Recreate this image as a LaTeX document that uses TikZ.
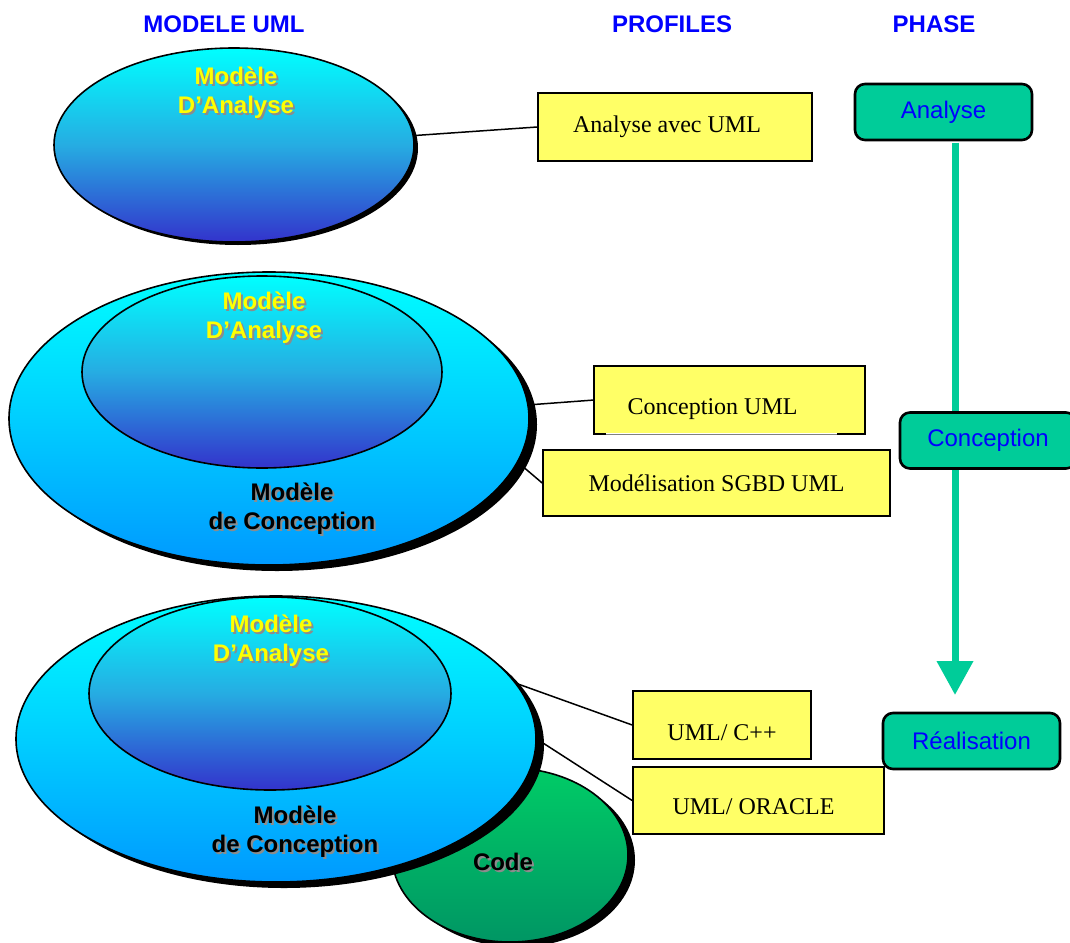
\documentclass[tikz,border=0pt]{standalone}
\usepackage{fontspec}
\setmainfont{Liberation Serif}
\setsansfont{Liberation Sans}
\usetikzlibrary{shapes.geometric,shadows,calc,arrows.meta}

\definecolor{hdrblue}{RGB}{0,0,255}
\definecolor{ucyan}{RGB}{0,255,255}
\definecolor{umid}{RGB}{38,172,226}
\definecolor{udeep}{RGB}{51,51,204}
\definecolor{oblue}{RGB}{0,153,255}
\definecolor{omid}{RGB}{0,206,255}
\definecolor{cgreen}{RGB}{0,204,102}
\definecolor{cdark}{RGB}{0,150,100}
\definecolor{pyellow}{RGB}{255,255,102}
\definecolor{phasegreen}{RGB}{0,204,153}
\definecolor{txtshadow}{RGB}{140,140,140}
\definecolor{lblyellow}{RGB}{255,255,0}

\tikzset{
  model/.style={ellipse, draw=black, line width=1.6pt, inner sep=0pt},
  inner model/.style={model, top color=ucyan, bottom color=udeep, middle color=umid},
  outer model/.style={model, top color=ucyan, bottom color=oblue, middle color=omid,
    drop shadow={shadow xshift=8pt, shadow yshift=-6pt, fill=black, opacity=1}},
  code model/.style={model, top color=cgreen, bottom color=cdark,
    drop shadow={shadow xshift=7pt, shadow yshift=-5pt, fill=black, opacity=1}},
  header/.style={font=\sffamily\bfseries\fontsize{24}{29}\selectfont, text=hdrblue, inner sep=0pt},
  lbl/.style={font=\sffamily\bfseries\fontsize{24}{29}\selectfont, align=center, inner sep=0pt},
  profile/.style={rectangle, draw=black, line width=1.6pt, fill=pyellow,
    font=\fontsize{24}{29}\selectfont, inner sep=0pt},
  phase/.style={rectangle, rounded corners=10pt, draw=black, line width=2.6pt, fill=phasegreen,
    text=hdrblue, font=\sffamily\fontsize{24}{29}\selectfont,
    minimum width=177pt, minimum height=56pt, inner sep=0pt},
  link/.style={draw=black, line width=1.5pt},
  flow/.style={draw=phasegreen, line width=7pt, -{Triangle[width=35pt,length=34pt]}}
}

% label with a soft grey cast shadow behind it
\newcommand\castlabel[4]{%
  \node[lbl, text=txtshadow] (#1-s) at ($#2+(2,2)$) {#4};
  \node[lbl, text=#3] (#1) at #2 {#4};}
% text set a little below the middle of its box
\newcommand\lowtext[2]{\raisebox{-#1}[0pt][0pt]{#2}}

\begin{document}
\begin{tikzpicture}[x=1pt,y=-1pt]
\useasboundingbox (0,0) rectangle (1070,942);

% column headings
\node[header] (hmodel) at (224,24) {MODELE UML};
\node[header] (hprof) at (672,24) {PROFILES};
\node[header] (hphase) at (934,24) {PHASE};

% first model: analysis only
\node[inner model, minimum width=360pt, minimum height=194pt,
  drop shadow={shadow xshift=4pt, shadow yshift=-3pt, fill=black, opacity=1}] (e1) at (234,145) {};
\castlabel{l1}{(236,93)}{lblyellow}{Modèle\\D’Analyse}

% second model: design around analysis
\node[outer model, minimum width=520pt, minimum height=293pt] (e2o) at (269,418.5) {};
\node[inner model, minimum width=360pt, minimum height=192pt] (e2i) at (262,372) {};
\castlabel{l2a}{(264,318)}{lblyellow}{Modèle\\D’Analyse}
\castlabel{l2c}{(292,509)}{black}{Modèle\\de Conception}

% third model: design, analysis and code
\node[code model, minimum width=236pt, minimum height=174pt] (code) at (510,855) {};
\node[outer model, minimum width=520pt, minimum height=286pt] (e3o) at (276,739) {};
\node[inner model, minimum width=362pt, minimum height=193pt] (e3i) at (270,693.5) {};
\castlabel{l3a}{(271,641)}{lblyellow}{Modèle\\D’Analyse}
\castlabel{l3c}{(295,832)}{black}{Modèle\\de Conception}
\castlabel{l3k}{(503,862)}{black}{Code}

% profiles
\node[profile, minimum width=274pt, minimum height=68pt] (p1) at (675,127) {\hspace*{-16pt}Analyse avec UML};
\node[profile, draw=none, minimum width=269pt, minimum height=66pt] (p2) at (729.5,400) {\hspace*{-34pt}\lowtext{14pt}{Conception UML}};
\draw[line width=1.6pt] ($(p2.south west)+(12,0)$) -- (p2.south west) -- (p2.north west)
  -- (p2.north east) -- (p2.south east) -- ++(-28,0);
\draw[gray, line width=0.6pt] ($(p2.south west)+(12,0)$) -- ($(p2.south east)+(-28,0)$);
\node[profile, minimum width=347pt, minimum height=66pt] (p3) at (716.5,483) {Modélisation SGBD UML};
\node[profile, minimum width=178pt, minimum height=68pt] (p4) at (722,725) {\lowtext{15pt}{UML/ C++}};
\node[profile, minimum width=251pt, minimum height=67pt] (p5) at (758.5,800.5) {\hspace*{-10pt}\lowtext{13.5pt}{UML/ ORACLE}};

% links from models to profiles
\draw[link] (e1.3) -- (p1.west);
\draw[link] (e2o.3) -- (p2.west);
\draw[link] (e2o.-10) -- (p3.west);
\draw[link] (e3o.13) -- (p4.west);
\draw[link] (e3o.east) -- (p5.west);

% phases
\node[phase] (a1) at (943.5,112) {Analyse};
\coordinate (tip) at (955,695);
\draw[flow] ($(a1.south -| tip)+(0,1.3)$) -- (tip);
\node[phase, minimum width=176pt] (a2) at (988,440.5) {Conception};
\node[phase] (a3) at (971.5,741) {Réalisation};
\end{tikzpicture}
\end{document}
